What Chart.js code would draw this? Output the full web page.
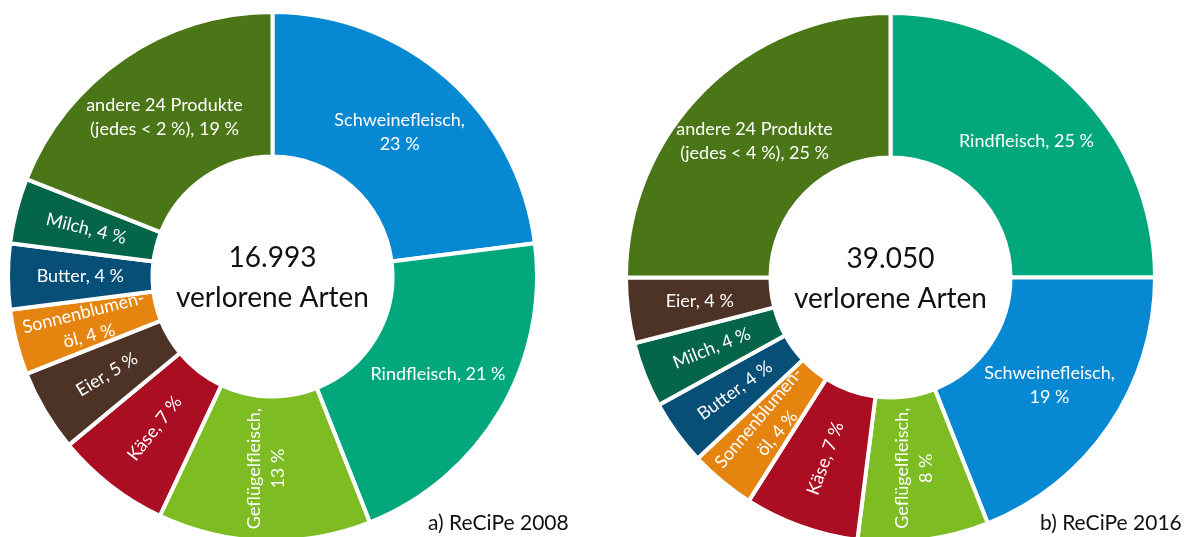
<!DOCTYPE html>
<html lang="de">
<head>
<meta charset="utf-8">
<title>Verlorene Arten nach Produkt</title>
<script src="https://cdn.jsdelivr.net/npm/chart.js@4.4.1/dist/chart.umd.min.js"></script>
<style>
  html, body { margin: 0; padding: 0; background: #fff; }
  #page { position: relative; width: 1192px; height: 537px; overflow: hidden; background: #fff; }
  .pie { position: absolute; }
  .caption { position: absolute; font-family: Lato, "Open Sans", sans-serif; font-size: 21px; color: #111; white-space: nowrap; }
</style>
</head>
<body>
<div id="page">
  <canvas id="chart2008" class="pie" width="533" height="533" style="left:6px;top:10px"></canvas>
  <canvas id="chart2016" class="pie" width="533" height="533" style="left:624px;top:11px"></canvas>
  <div class="caption" style="left:428px;top:509px">a) ReCiPe 2008</div>
  <div class="caption" style="left:1040px;top:509px">b) ReCiPe 2016</div>
</div>
<script>
// ReCiPe 2008
const products2008 = ["Schweinefleisch", "Rindfleisch", "Geflügelfleisch", "Käse", "Eier",
  "Sonnenblumenöl", "Butter", "Milch", "andere 24 Produkte"];
const shares2008 = [23, 21, 13, 7, 5, 4, 4, 4, 19];
const labels2008 = ["Schweinefleisch,\n{v} %", "Rindfleisch, {v} %", "Geflügelfleisch,\n{v} %",
  "Käse, {v} %", "Eier, {v} %", "Sonnenblumen-\nöl, {v} %", "Butter, {v} %", "Milch, {v} %",
  "andere 24 Produkte\n(jedes < 2 %), {v} %"];
const total2008 = "16.993";

// ReCiPe 2016
const products2016 = ["Rindfleisch", "Schweinefleisch", "Geflügelfleisch", "Käse",
  "Sonnenblumenöl", "Butter", "Milch", "Eier", "andere 24 Produkte"];
const shares2016 = [25, 19, 8, 7, 4, 4, 4, 4, 25];
const labels2016 = ["Rindfleisch, {v} %", "Schweinefleisch,\n{v} %", "Geflügelfleisch,\n{v} %",
  "Käse, {v} %", "Sonnenblumen-\nöl, {v} %", "Butter, {v} %", "Milch, {v} %", "Eier, {v} %",
  "andere 24 Produkte\n(jedes < 4 %), {v} %"];
const total2016 = "39.050";

const colors = {
  "Schweinefleisch": "#0688d2",
  "Rindfleisch": "#02a77b",
  "Geflügelfleisch": "#7ebc23",
  "Käse": "#ab0d22",
  "Eier": "#4d3326",
  "Sonnenblumenöl": "#e5840f",
  "Butter": "#084f78",
  "Milch": "#056548",
  "andere 24 Produkte": "#4a7617",
};

// label rotation in degrees (text runs outward -> inward on the narrow slices)
const rot2008 = [0, 0, -90, -52, -31, -14, 0, 14, 0];
const rot2016 = [0, 0, -90, -70, -50, -36, -22, 0, 0];

const sliceLabels = {
  id: "sliceLabels",
  afterDatasetsDraw(chart, args, opts) {
    const ctx = chart.ctx;
    const values = chart.data.datasets[0].data;
    const arcs = chart.getDatasetMeta(0).data;
    ctx.save();
    ctx.textAlign = "center";
    ctx.textBaseline = "middle";
    ctx.font = "18px Lato, 'Open Sans', sans-serif";
    ctx.fillStyle = "#ffffff";
    arcs.forEach((arc, i) => {
      const { x, y } = arc.getCenterPoint();
      const lines = opts.texts[i].replace("{v}", values[i]).split("\n");
      ctx.save();
      ctx.translate(x, y);
      ctx.rotate((opts.rotations[i] * Math.PI) / 180);
      lines.forEach((line, j) => {
        ctx.fillText(line, 0, (j - (lines.length - 1) / 2) * 24);
      });
      ctx.restore();
    });

    // text in the hole
    const cx = arcs[0].x;
    const cy = arcs[0].y;
    ctx.fillStyle = "#111";
    ctx.font = "28px Lato, 'Open Sans', sans-serif";
    ctx.fillText(opts.total, cx, cy - 19);
    ctx.fillText("verlorene Arten", cx, cy + 21);
    ctx.restore();
  },
};

function makeChart(id, products, shares, texts, rotations, total) {
  return new Chart(document.getElementById(id), {
    type: "doughnut",
    data: {
      labels: products,
      datasets: [{
        data: shares,
        backgroundColor: products.map((p) => colors[p]),
        borderColor: "#ffffff",
        borderWidth: 4,
      }],
    },
    options: {
      responsive: false,
      animation: false,
      events: [],
      cutout: 120,
      layout: { padding: 0 },
      plugins: {
        legend: { display: false },
        tooltip: { enabled: false },
        sliceLabels: { texts, rotations, total },
      },
    },
    plugins: [sliceLabels],
  });
}

makeChart("chart2008", products2008, shares2008, labels2008, rot2008, total2008);
makeChart("chart2016", products2016, shares2016, labels2016, rot2016, total2016);
</script>
</body>
</html>
